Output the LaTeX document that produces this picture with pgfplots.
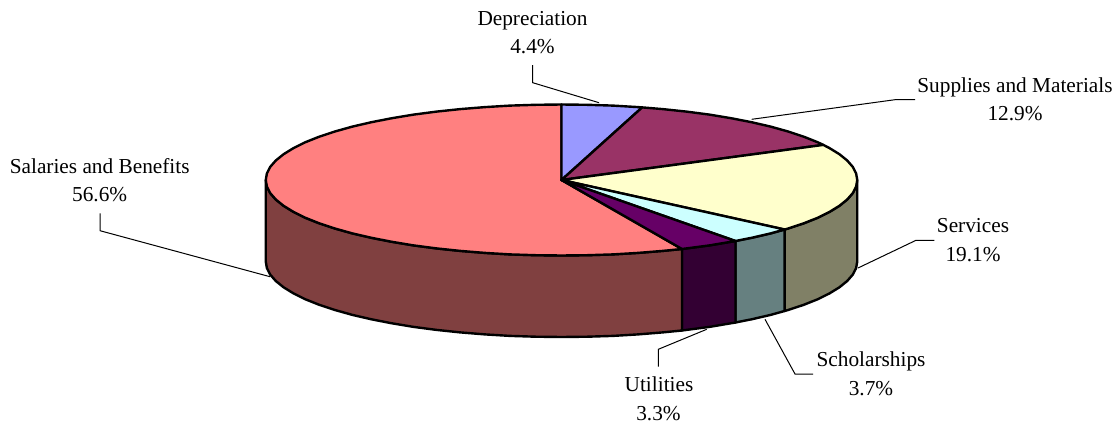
\documentclass[border=0pt]{standalone}
\usepackage{pgfplots}
\pgfplotsset{compat=1.18}
\usepackage{fontspec}
\setmainfont{Liberation Serif}
\definecolor{cDep}{HTML}{9999FF}
\definecolor{cSup}{HTML}{993366}
\definecolor{cSer}{HTML}{FFFFCC}
\definecolor{cSch}{HTML}{CCFFFF}
\definecolor{cUti}{HTML}{660066}
\definecolor{cSal}{HTML}{FF8080}
\definecolor{dSer}{HTML}{808066}
\definecolor{dSch}{HTML}{668080}
\definecolor{dUti}{HTML}{330033}
\definecolor{dSal}{HTML}{804040}
\tikzset{
  wedge/.style={draw=black,line width=2.4pt,mark=none,line join=round,line cap=round},
  leader/.style={draw=black,line width=1pt,mark=none,line join=miter},
  lab/.style={anchor=base,inner sep=0pt,font=\fontsize{21.3pt}{25pt}\selectfont,text=black},
}
\begin{document}
\begin{tikzpicture}[x=1pt,y=1pt]
\useasboundingbox (0,0) rectangle (1118pt,423pt);
\begin{axis}[
  at={(0,0)},anchor=south west,
  scale only axis,width=1118pt,height=423pt,
  xmin=0,xmax=1118,ymin=0,ymax=423,y dir=reverse,
  hide axis,clip=false,
]
% side walls
\addplot[wedge,fill=dSer] coordinates {(857.25,180)(856.1,186.6)(852.8,193.1)(847.2,199.5)(839.4,205.8)(829.5,211.9)(817.6,217.8)(803.8,223.3)(788.1,228.5)(784.6,229.5)(784.6,311)(788.1,310)(803.8,304.8)(817.6,299.3)(829.5,293.4)(839.4,287.3)(847.2,281)(852.8,274.6)(856.1,268.1)(857.25,261.5)} --cycle;
\addplot[wedge,fill=dSch] coordinates {(784.6,229.5)(770.6,233.4)(751.6,237.8)(735.5,241)(735.5,322.5)(751.6,319.3)(770.6,314.9)(784.6,311)} --cycle;
\addplot[wedge,fill=dUti] coordinates {(735.5,241)(709.4,245.4)(686.5,248.4)(682,249)(682,330.5)(686.5,329.9)(709.4,326.9)(735.5,322.5)} --cycle;
\addplot[wedge,fill=dSal] coordinates {(682,249)(662.7,250.9)(638,252.9)(612.9,254.4)(587.3,255.2)(561.5,255.5)(535.7,255.2)(510.1,254.4)(485,252.9)(460.3,250.9)(436.5,248.4)(413.6,245.4)(391.9,241.8)(371.4,237.8)(352.4,233.4)(334.9,228.5)(319.2,223.3)(305.4,217.8)(293.5,211.9)(283.6,205.8)(275.8,199.5)(270.2,193.1)(266.9,186.6)(265.75,180)(265.75,261.5)(266.9,268.1)(270.2,274.6)(275.8,281)(283.6,287.3)(293.5,293.4)(305.4,299.3)(319.2,304.8)(334.9,310)(352.4,314.9)(371.4,319.3)(391.9,323.3)(413.6,326.9)(436.5,329.9)(460.3,332.4)(485,334.4)(510.1,335.9)(535.7,336.7)(561.5,337)(587.3,336.7)(612.9,335.9)(638,334.4)(662.7,332.4)(682,330.5)} --cycle;
% top slices
\addplot[wedge,fill=cSal] coordinates {(561.5,180)(682,249)(662.7,250.9)(638,252.9)(612.9,254.4)(587.3,255.2)(561.5,255.5)(535.7,255.2)(510.1,254.4)(485,252.9)(460.3,250.9)(436.5,248.4)(413.6,245.4)(391.9,241.8)(371.4,237.8)(352.4,233.4)(334.9,228.5)(319.2,223.3)(305.4,217.8)(293.5,211.9)(283.6,205.8)(275.8,199.5)(270.2,193.1)(266.9,186.6)(265.75,180)(266.9,173.4)(270.2,166.9)(275.8,160.5)(283.6,154.2)(293.5,148.1)(305.4,142.2)(319.2,136.7)(334.9,131.5)(352.4,126.6)(371.4,122.2)(391.9,118.2)(413.6,114.6)(436.5,111.6)(460.3,109.1)(485,107.1)(510.1,105.6)(535.7,104.8)(561.5,104.5)} --cycle;
\addplot[wedge,fill=cDep] coordinates {(561.5,180)(561.5,104.5)(587.3,104.8)(612.9,105.6)(638,107.1)(642.2,107.4)} --cycle;
\addplot[wedge,fill=cSup] coordinates {(561.5,180)(642.2,107.4)(662.7,109.1)(686.5,111.6)(709.4,114.6)(731.1,118.2)(751.6,122.2)(770.6,126.6)(788.1,131.5)(803.8,136.7)(817.6,142.2)(823.3,144.9)} --cycle;
\addplot[wedge,fill=cSer] coordinates {(561.5,180)(823.3,144.9)(829.5,148.1)(839.4,154.2)(847.2,160.5)(852.8,166.9)(856.1,173.4)(857.25,180)(856.1,186.6)(852.8,193.1)(847.2,199.5)(839.4,205.8)(829.5,211.9)(817.6,217.8)(803.8,223.3)(788.1,228.5)(784.6,229.5)} --cycle;
\addplot[wedge,fill=cSch] coordinates {(561.5,180)(784.6,229.5)(770.6,233.4)(751.6,237.8)(735.5,241)} --cycle;
\addplot[wedge,fill=cUti] coordinates {(561.5,180)(735.5,241)(709.4,245.4)(686.5,248.4)(682,249)} --cycle;
% leader lines
\addplot[leader] coordinates {(532.7,65)(532.7,82.7)(599,102.7)};
\addplot[leader] coordinates {(751.7,119.3)(895,99.7)(915,99.7)};
\addplot[leader] coordinates {(858,268)(916,240.3)(934.3,240.3)};
\addplot[leader] coordinates {(765,319.3)(795,374)(813,374)};
\addplot[leader] coordinates {(706.7,329.3)(658.3,349.3)(658.3,366.7)};
\addplot[leader] coordinates {(270,276.7)(100,230.7)(100,213.3)};
% labels
\node[lab] at (axis cs:532.5,25) {Depreciation};
\node[lab] at (axis cs:532.5,53.3) {4.4\%};
\node[lab] at (axis cs:1015,92.7) {Supplies and Materials};
\node[lab] at (axis cs:1015,120.5) {12.9\%};
\node[lab] at (axis cs:973,232.7) {Services};
\node[lab] at (axis cs:973,261) {19.1\%};
\node[lab] at (axis cs:871,366.7) {Scholarships};
\node[lab] at (axis cs:871,395) {3.7\%};
\node[lab] at (axis cs:659,391.7) {Utilities};
\node[lab] at (axis cs:658.5,420) {3.3\%};
\node[lab] at (axis cs:99.7,173.3) {Salaries and Benefits};
\node[lab] at (axis cs:99.7,201.7) {56.6\%};
\end{axis}
\end{tikzpicture}
\end{document}
